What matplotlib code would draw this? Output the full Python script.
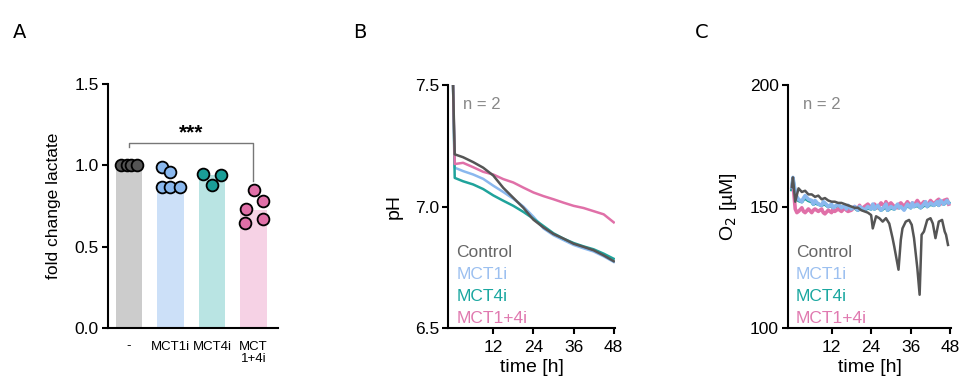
import numpy as np
import matplotlib
matplotlib.use("Agg")
import matplotlib.pyplot as plt

plt.rcParams['font.family'] = ['Liberation Sans', 'DejaVu Sans']

# ---- panel A: lactate ----
groups = ['-', 'MCT1i', 'MCT4i', 'MCT\n1+4i']
bar_means = [1.0, 0.90, 0.94, 0.725]
pts_ctrl = [1.0, 1.0, 1.0, 1.0]
pts_mct1 = [0.99, 0.96, 0.865, 0.865, 0.865]
pts_mct4 = [0.947, 0.879, 0.942]
pts_mct14 = [0.73, 0.846, 0.78, 0.644, 0.669]
offs_ctrl = [-0.185, -0.06, 0.06, 0.185]
offs_mct1 = [-0.2, 0.0, -0.2, 0.0, 0.22]
offs_mct4 = [-0.21, 0.0, 0.21]
offs_mct14 = [-0.19, 0.02, 0.24, -0.2, 0.24]

bar_cols = ['#cccccc', '#cce0f8', '#b9e4e3', '#f6d2e5']
pt_cols = ['#555555', '#8ab8ee', '#1a9e98', '#e070a8']

# ---- panel B: pH ----
ph_t = [0, 0.5, 3, 6, 9, 12, 15, 18, 21, 24, 27, 30, 33, 36, 39, 42, 45, 48]
ph_ctrl = [7.5, 7.215, 7.203, 7.183, 7.16, 7.128, 7.077, 7.036, 6.995, 6.946,
           6.914, 6.887, 6.868, 6.847, 6.834, 6.82, 6.799, 6.775]
ph_mct1 = [7.5, 7.16, 7.146, 7.132, 7.114, 7.086, 7.06, 7.032, 7.0, 6.958,
           6.91, 6.882, 6.862, 6.842, 6.828, 6.815, 6.795, 6.772]
ph_mct4 = [7.5, 7.118, 7.104, 7.091, 7.072, 7.046, 7.024, 7.003, 6.978, 6.95,
           6.92, 6.89, 6.868, 6.85, 6.836, 6.824, 6.806, 6.785]
ph_mct14 = [7.5, 7.175, 7.18, 7.162, 7.143, 7.132, 7.113, 7.099, 7.078, 7.058,
            7.043, 7.03, 7.016, 7.003, 6.994, 6.981, 6.968, 6.935]

# ---- panel C: O2 ----
o2_t_ctrl = [0, 0.3, 1, 2, 3, 4, 5, 6, 7, 8, 9, 10, 11, 12, 13, 14, 15, 16, 17,
             18, 19, 20, 21, 22, 23, 24, 24.5, 25.5, 26.5, 27.5, 28.5, 29.5,
             30.5, 31, 32.3, 33, 33.5, 34.5, 35.5, 36.3, 37, 38, 38.7, 39.3,
             40, 41, 42, 42.7, 43.5, 44.5, 45.5, 46.3, 46.7, 47.3]
o2_ctrl = [158, 162, 152, 157.5, 156, 156.5, 155, 155, 154, 154.5, 153, 153.5,
           152.5, 152, 152, 151.5, 151.5, 151, 150.5, 150, 149.5, 149.5, 148.5,
           148, 147.5, 146.5, 141, 146, 145.2, 143.8, 145.2, 143, 137, 133.6,
           124, 136.3, 141, 143.8, 144.5, 142.5, 137, 124.7, 113.7, 138.4,
           139.7, 144.5, 145.2, 143, 137, 143.8, 144.5, 139.7, 138.4, 134.2]
o2_t = [0, 0.3, 1, 1.5, 2, 3, 3.5, 4, 5, 6, 6.5, 7, 8, 9, 9.5, 10, 11, 12,
        12.5, 13, 14, 15, 16, 16.5, 17, 18, 19, 20, 20.5, 21, 22, 23, 24, 24.5,
        25, 26, 27, 28, 28.5, 29, 30, 31, 32, 32.5, 33, 34, 35, 36, 36.5, 37,
        38, 39, 40, 40.5, 41, 42, 43, 44, 44.5, 45, 46, 47, 47.5]
o2_mct1 = [158, 162, 156, 154, 153, 152, 153.5, 154.5, 153, 152.5, 151, 152.5,
           151, 150.5, 152, 151.5, 150, 151, 149.5, 150, 151, 149.5, 150.5,
           149, 150.5, 149, 150, 148.5, 150, 149.5, 148.5, 150, 149, 151, 149,
           150.5, 148.5, 150, 151, 148.5, 150, 149, 151, 149.5, 150, 148.5,
           151, 149.5, 151.5, 150, 151, 149.5, 151, 152, 150, 151.5, 150.5,
           152, 150.5, 152.5, 151, 152.5, 151.5]
o2_mct4 = [157, 161, 155, 153.5, 152.5, 152, 153, 153.5, 152.5, 152, 151,
           151.5, 151, 150.5, 151, 151, 150, 150.5, 149.5, 150, 150.5, 149.5,
           150, 149, 150, 149, 149.5, 148.5, 149.5, 149, 148.5, 149.5, 149,
           150, 149, 150, 148.5, 149.5, 150.5, 148.5, 149.5, 149, 150.5, 149.5,
           150, 149, 150.5, 149.5, 151, 150, 150.5, 149.5, 150.5, 151.5, 150,
           151, 150.5, 151.5, 150.5, 152, 151, 152, 151.5]
o2_mct14 = [158, 160, 149, 147.5, 148, 149.5, 148, 147.5, 149, 147.5, 148.5,
            149, 148, 149, 147.5, 147, 148.5, 147.5, 149, 148, 149, 148, 149.5,
            148.5, 148, 148.5, 150, 149, 150.5, 149, 150, 151, 149.5, 150.5,
            151, 149.5, 151.5, 150, 152, 150.5, 151.5, 150, 149.5, 151, 151.5,
            150, 152, 150, 151.5, 150.5, 152.5, 150.5, 152, 151, 150.5, 152.5,
            151, 152.5, 153, 151, 152.5, 153, 151]

legend_names = ['Control', 'MCT1i', 'MCT4i', 'MCT1+4i']
legend_cols = ['#666666', '#9cc0f0', '#1aa7a0', '#e07ab0']
line_cols = ['#555555', '#8ab8ee', '#1fa39b', '#e070a8']

fig = plt.figure(figsize=(9.6, 3.85), dpi=100)
axA = fig.add_axes([0.1125, 0.148, 0.1775, 0.634])
axB = fig.add_axes([0.4667, 0.148, 0.174, 0.631])
axC = fig.add_axes([0.8208, 0.148, 0.1698, 0.631])

for ax in (axA, axB, axC):
    ax.spines['top'].set_visible(False)
    ax.spines['right'].set_visible(False)
    ax.spines['left'].set_linewidth(1.5)
    ax.spines['bottom'].set_linewidth(1.5)
    ax.tick_params(width=1.5, length=4.5, labelsize=12.5, pad=2)
    ax.tick_params(axis='x', pad=4)

# A
x = np.arange(len(groups))
axA.bar(x, bar_means, width=0.65, color=bar_cols, zorder=1)
pts = [pts_ctrl, pts_mct1, pts_mct4, pts_mct14]
offs = [offs_ctrl, offs_mct1, offs_mct4, offs_mct14]
for i in range(len(groups)):
    axA.scatter(x[i] + np.array(offs[i]), pts[i], s=72, color=pt_cols[i],
                edgecolor='black', linewidth=1.3, zorder=3, clip_on=False)
axA.plot([0, 0, 3, 3], [1.11, 1.14, 1.14, 0.905], color='#777777', lw=1)
axA.text(1.5, 1.2, '***', ha='center', va='center', fontsize=15,
         fontweight='bold')
axA.set_xlim(-0.506, 3.6)
axA.set_ylim(0, 1.5)
axA.set_yticks([0, 0.5, 1.0, 1.5])
axA.set_yticklabels(['0.0', '0.5', '1.0', '1.5'])
axA.set_xticks(x)
axA.set_xticklabels(groups, fontsize=9.5, linespacing=1.0)
axA.tick_params(axis='x', length=0, pad=9)
axA.set_ylabel('fold change lactate', fontsize=12.5, labelpad=10)

# B
for vals, c in zip([ph_mct1, ph_mct4, ph_mct14, ph_ctrl],
                   [line_cols[1], line_cols[2], line_cols[3], line_cols[0]]):
    axB.plot(ph_t, vals, color=c, lw=1.8)
axB.set_xlim(-1.5, 48.4)
axB.set_ylim(6.5, 7.5)
axB.set_xticks([12, 24, 36, 48])
axB.set_yticks([6.5, 7.0, 7.5])
axB.set_yticklabels(['6.5', '7.0', '7.5'])
axB.set_ylabel('pH', fontsize=14, labelpad=9)
axB.set_xlabel('time [h]', fontsize=14, labelpad=3)

# C
axC.plot(o2_t, o2_mct4, color=line_cols[2], lw=2.6)
axC.plot(o2_t, o2_mct14, color=line_cols[3], lw=2.6)
axC.plot(o2_t, o2_mct1, color=line_cols[1], lw=2.6)
axC.plot(o2_t_ctrl, o2_ctrl, color=line_cols[0], lw=1.8)
axC.set_xlim(-1.2, 48.2)
axC.set_ylim(100, 200)
axC.set_xticks([12, 24, 36, 48])
axC.set_yticks([100, 150, 200])
axC.set_ylabel('O$_2$ [µM]', fontsize=14, labelpad=8)
axC.set_xlabel('time [h]', fontsize=14, labelpad=3)

for ax in (axB, axC):
    ax.text(0.09, 0.92, 'n = 2', transform=ax.transAxes, color='#888888',
            fontsize=12, va='center')
    for k, (name, col) in enumerate(zip(legend_names, legend_cols)):
        ax.text(0.05, 0.309 - 0.09 * k, name, transform=ax.transAxes,
                color=col, fontsize=12.5, va='center', ha='left')

fig.text(0.02, 0.915, 'A', fontsize=14, family='DejaVu Sans', ha='center', va='center')
fig.text(0.375, 0.915, 'B', fontsize=14, family='DejaVu Sans', ha='center', va='center')
fig.text(0.731, 0.915, 'C', fontsize=14, family='DejaVu Sans', ha='center', va='center')

fig.savefig('out.png', dpi=100)
